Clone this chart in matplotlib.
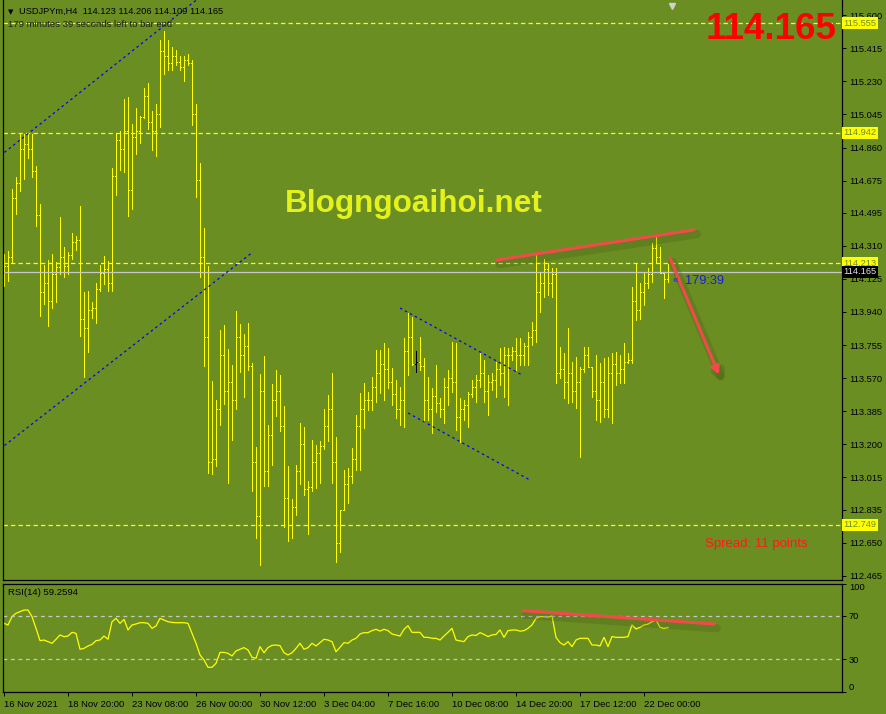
import matplotlib

matplotlib.use("Agg")
import matplotlib.patheffects as pe
import matplotlib.pyplot as plt
from matplotlib.transforms import blended_transform_factory

W, H = 887, 714
BG = "#6b8e23"
plt.rcParams["font.family"] = ["Liberation Sans", "DejaVu Sans"]

# USDJPYm H4 bars (oldest first)
highs = [
    114.264, 114.281, 114.628, 114.695, 114.936, 114.936, 114.936, 114.936, 114.757, 114.544,
    114.203, 114.231, 114.264, 114.220, 114.471, 114.304, 114.276, 114.382, 114.365, 114.533,
    114.052, 114.057, 113.996, 114.102, 114.203, 114.253, 114.225, 114.745, 114.941, 114.952,
    115.131, 115.143, 114.992, 115.081, 115.036, 115.193, 115.221, 115.064, 115.103, 115.461,
    115.512, 115.461, 115.422, 115.405, 115.372, 115.372, 115.383, 115.349, 115.103, 114.773,
    114.410, 114.197, 113.554, 113.448, 113.839, 113.867, 113.733, 113.644, 113.946, 113.873,
    113.817, 113.879, 113.655, 113.185, 113.593, 113.694, 113.308, 113.537, 113.616, 113.588,
    113.414, 113.079, 112.894, 113.084, 113.319, 113.297, 112.995, 113.224, 113.196, 113.219,
    113.398, 113.476, 113.599, 113.241, 112.833, 113.056, 113.068, 113.179, 113.364, 113.487,
    113.543, 113.493, 113.576, 113.727, 113.727, 113.767, 113.739, 113.627, 113.560, 113.521,
    113.795, 113.934, 113.912, 113.722, 113.800, 113.683, 113.576, 113.515, 113.644, 113.459,
    113.571, 113.616, 113.772, 113.767, 113.459, 113.448, 113.493, 113.560, 113.588, 113.716,
    113.672, 113.588, 113.599, 113.660, 113.739, 113.744, 113.739, 113.744, 113.795, 113.795,
    113.767, 113.828, 113.884, 114.259, 114.158, 114.236, 114.214, 114.186, 114.186, 113.744,
    113.711, 113.851, 113.660, 113.688, 113.632, 113.744, 113.744, 113.632, 113.700, 113.655,
    113.683, 113.688, 113.711, 113.716, 113.700, 113.767, 113.711, 114.080, 114.214, 114.102,
    114.164, 114.186, 114.326, 114.360, 114.304, 114.164, 114.206,
]
lows = [
    114.085, 114.113, 114.214, 114.488, 114.617, 114.684, 114.801, 114.695, 114.421, 113.918,
    113.985, 113.862, 113.962, 113.996, 114.153, 114.136, 114.153, 114.236, 114.287, 113.806,
    113.576, 113.716, 113.906, 113.879, 114.057, 114.097, 114.057, 114.057, 114.594, 114.734,
    114.723, 114.477, 114.516, 114.824, 114.885, 115.025, 114.964, 114.846, 114.813, 114.975,
    115.271, 115.294, 115.294, 115.321, 115.294, 115.232, 115.321, 114.986, 114.583, 114.136,
    113.638, 113.040, 113.034, 113.079, 113.308, 113.425, 112.984, 113.224, 113.398, 113.604,
    113.465, 113.616, 112.939, 112.676, 112.525, 112.967, 112.967, 113.084, 113.358, 113.274,
    112.738, 112.659, 112.676, 112.805, 112.978, 112.917, 112.698, 112.939, 112.956, 112.984,
    113.174, 113.219, 112.984, 112.542, 112.598, 112.830, 112.872, 112.984, 113.056, 113.056,
    113.291, 113.392, 113.392, 113.437, 113.487, 113.448, 113.515, 113.420, 113.347, 113.308,
    113.297, 113.588, 113.644, 113.604, 113.616, 113.325, 113.336, 113.263, 113.381, 113.353,
    113.319, 113.420, 113.493, 113.280, 113.213, 113.336, 113.297, 113.465, 113.437, 113.521,
    113.437, 113.364, 113.504, 113.465, 113.532, 113.465, 113.420, 113.672, 113.616, 113.644,
    113.644, 113.644, 113.755, 113.772, 113.940, 114.024, 114.035, 114.024, 113.543, 113.571,
    113.459, 113.431, 113.437, 113.403, 113.129, 113.604, 113.632, 113.465, 113.336, 113.325,
    113.353, 113.353, 113.319, 113.532, 113.543, 113.543, 113.655, 113.655, 113.895, 113.901,
    113.979, 114.074, 114.108, 114.214, 114.158, 114.018, 114.109,
]
opens = [
    114.15, 114.20, 114.25, 114.58, 114.66, 114.85, 114.88, 114.85, 114.73, 114.48,
    114.05, 114.10, 114.00, 114.15, 114.19, 114.25, 114.20, 114.26, 114.33, 114.34,
    113.90, 113.85, 113.95, 113.96, 114.07, 114.16, 114.18, 114.10, 114.70, 114.90,
    114.85, 114.95, 114.62, 114.92, 114.95, 115.03, 115.15, 115.00, 114.95, 115.05,
    115.40, 115.37, 115.33, 115.37, 115.34, 115.31, 115.35, 115.33, 115.05, 114.68,
    114.25, 113.80, 113.10, 113.12, 113.40, 113.70, 113.50, 113.55, 113.45, 113.80,
    113.70, 113.75, 113.64, 113.10, 112.80, 113.50, 113.05, 113.25, 113.45, 113.50,
    113.30, 112.90, 112.75, 112.85, 113.05, 113.20, 112.95, 112.96, 113.10, 113.15,
    113.19, 113.30, 113.40, 113.10, 112.65, 112.83, 112.98, 113.02, 113.12, 113.30,
    113.40, 113.45, 113.45, 113.52, 113.60, 113.65, 113.62, 113.55, 113.48, 113.40,
    113.45, 113.72, 113.80, 113.65, 113.66, 113.64, 113.45, 113.40, 113.47, 113.43,
    113.40, 113.52, 113.57, 113.55, 113.35, 113.40, 113.42, 113.48, 113.52, 113.56,
    113.60, 113.50, 113.55, 113.56, 113.62, 113.60, 113.70, 113.70, 113.72, 113.70,
    113.70, 113.75, 113.80, 113.84, 114.05, 114.10, 114.18, 114.10, 114.15, 113.60,
    113.62, 113.55, 113.60, 113.50, 113.55, 113.62, 113.70, 113.63, 113.50, 113.45,
    113.55, 113.40, 113.60, 113.65, 113.60, 113.62, 113.66, 113.67, 114.00, 113.95,
    114.05, 114.10, 114.15, 114.30, 114.25, 114.16, 114.123,
]
closes = [
    114.20, 114.25, 114.58, 114.66, 114.85, 114.88, 114.85, 114.73, 114.48, 114.05,
    114.10, 114.00, 114.15, 114.19, 114.25, 114.20, 114.26, 114.33, 114.34, 113.90,
    113.85, 113.95, 113.96, 114.07, 114.16, 114.18, 114.10, 114.70, 114.90, 114.85,
    114.95, 114.62, 114.92, 114.95, 115.03, 115.15, 115.00, 114.95, 115.05, 115.40,
    115.37, 115.33, 115.37, 115.34, 115.31, 115.35, 115.33, 115.05, 114.68, 114.25,
    113.80, 113.10, 113.12, 113.40, 113.70, 113.50, 113.55, 113.45, 113.80, 113.70,
    113.75, 113.64, 113.10, 112.80, 113.50, 113.05, 113.25, 113.45, 113.50, 113.30,
    112.90, 112.75, 112.85, 113.05, 113.20, 112.95, 112.96, 113.10, 113.15, 113.19,
    113.30, 113.40, 113.10, 112.65, 112.83, 112.98, 113.02, 113.12, 113.30, 113.40,
    113.45, 113.45, 113.52, 113.60, 113.65, 113.62, 113.55, 113.48, 113.40, 113.45,
    113.72, 113.80, 113.65, 113.66, 113.64, 113.45, 113.40, 113.47, 113.43, 113.40,
    113.52, 113.57, 113.55, 113.35, 113.40, 113.42, 113.48, 113.52, 113.56, 113.60,
    113.50, 113.55, 113.56, 113.62, 113.60, 113.70, 113.70, 113.72, 113.70, 113.70,
    113.75, 113.80, 113.84, 114.05, 114.10, 114.18, 114.10, 114.15, 113.60, 113.62,
    113.55, 113.60, 113.50, 113.55, 113.62, 113.70, 113.63, 113.50, 113.45, 113.55,
    113.40, 113.60, 113.65, 113.60, 113.62, 113.66, 113.67, 114.00, 113.95, 114.05,
    114.10, 114.15, 114.30, 114.25, 114.16, 114.123, 114.165,
]
rsi = [
    63.2, 61.7, 69.4, 72.5, 74.0, 75.5, 75.5, 69.4, 58.6, 47.2,
    47.8, 46.3, 44.8, 48.5, 52.5, 50.9, 51.5, 54.9, 54.0, 39.3,
    40.1, 42.3, 43.8, 47.2, 47.8, 51.5, 48.5, 64.7, 67.8, 63.2,
    66.9, 57.1, 61.7, 62.6, 63.8, 63.8, 63.2, 58.6, 60.8, 67.8,
    66.3, 64.7, 64.1, 63.8, 63.8, 63.8, 63.2, 54.0, 44.8, 34.0,
    29.4, 22.6, 22.6, 26.3, 36.4, 36.4, 35.5, 33.1, 37.7, 39.3,
    40.8, 38.6, 31.9, 30.9, 41.7, 36.1, 40.8, 42.9, 43.2, 42.6,
    36.1, 34.0, 36.1, 40.1, 44.8, 39.3, 40.8, 44.8, 42.3, 45.4,
    48.5, 47.8, 46.3, 37.0, 41.1, 45.4, 44.8, 47.8, 49.4, 53.4,
    54.6, 54.6, 56.5, 57.7, 56.1, 57.7, 56.5, 53.4, 52.5, 51.5,
    57.7, 61.0, 54.9, 54.9, 54.9, 50.3, 50.3, 49.4, 49.4, 47.8,
    51.5, 54.9, 58.6, 47.8, 47.0, 46.3, 51.0, 52.5, 52.0, 54.6,
    53.0, 51.0, 52.5, 53.0, 57.1, 50.3, 56.5, 57.0, 57.1, 56.0,
    56.5, 58.6, 61.7, 67.8, 69.4, 69.4, 69.0, 70.0, 50.3, 45.4,
    43.2, 46.3, 41.7, 47.8, 49.4, 49.4, 49.4, 43.2, 43.2, 42.3,
    50.3, 41.7, 51.0, 50.3, 50.3, 50.3, 51.0, 61.7, 58.0, 59.5,
    61.7, 62.5, 64.7, 66.3, 59.5, 58.6, 59.26,
]
CURSOR_BAR = 103  # bar drawn in black (crosshair)

date_ticks = [0, 16, 32, 48, 64, 80, 96, 112, 128, 144, 160]
date_labels = ["16 Nov 2021", "18 Nov 20:00", "23 Nov 08:00", "26 Nov 00:00",
               "30 Nov 12:00", "3 Dec 04:00", "7 Dec 16:00", "10 Dec 08:00",
               "14 Dec 20:00", "17 Dec 12:00", "22 Dec 00:00"]
price_ticks = [115.600, 115.415, 115.230, 115.045, 114.860, 114.675, 114.495, 114.310,
               114.125, 113.940, 113.755, 113.570, 113.385, 113.200, 113.015, 112.835,
               112.650, 112.465]
levels = [115.555, 114.942, 114.213, 112.749]
last_price = 114.165

# drawn objects: ((bar, price), (bar, price))
blue_lines = [((-1, 114.813), (48, 115.683)),
              ((-1, 113.174), (62.25, 114.276)),
              ((99, 113.962), (129.5, 113.588)),
              ((101, 113.375), (131.5, 113.000))]
red_line = ((123.25, 114.231), (172.5, 114.399))
red_arrow = ((166.5, 114.242), (178.75, 113.588))
rsi_red_line = ((129.75, 74.9), (177.5, 62.6))


def fx(x):
    return x / W


def fy(y):
    return 1 - y / H


fig = plt.figure(figsize=(W / 100, H / 100), dpi=100, facecolor=BG)
ax = fig.add_axes([fx(3), fy(580), (842 - 3) / W, 580 / H], facecolor=BG)
ax2 = fig.add_axes([fx(3), fy(691.8), (842 - 3) / W, (691.8 - 583.5) / H], facecolor=BG)

n = len(highs)
idx = list(range(n))
colors = ["#ffff00"] * n
colors[CURSOR_BAR] = "black"

ax.vlines(idx, lows, highs, colors=colors, lw=0.6, antialiased=False)
ax.hlines(opens, [i - 0.3 for i in idx], idx, colors=colors, lw=0.6, antialiased=False)
ax.hlines(closes, idx, [i + 0.3 for i in idx], colors=colors, lw=0.6, antialiased=False)

for lv in levels:
    ax.axhline(lv, color="#ffff00", lw=0.9, ls=(0, (3.5, 2.5)))
ax.axhline(last_price, color="#c8c8c8", lw=0.9)

for (x0, y0), (x1, y1) in blue_lines:
    ax.plot([x0, x1], [y0, y1], color="#0000ff", lw=0.9, ls=(0, (2.0, 2.5)))

shadow = [pe.SimpleLineShadow(offset=(2, -3), shadow_color="#3a4a10", alpha=0.22, linewidth=6),
          pe.Normal()]
(x0, y0), (x1, y1) = red_line
ax.plot([x0, x1], [y0, y1], color="#f24a4a", lw=2.2, solid_capstyle="round",
        path_effects=shadow)
(x0, y0), (x1, y1) = red_arrow
arr = ax.annotate("", xy=(x1, y1), xytext=(x0, y0),
                  arrowprops=dict(arrowstyle="-|>", color="#f24a4a", lw=2.2,
                                  mutation_scale=12, shrinkA=0, shrinkB=0))
arr.arrow_patch.set_path_effects(shadow)

ax.set_xlim(-0.25, 209.5)
ax.set_ylim(112.441, 115.685)
ax.set_xticks([])
ax.yaxis.tick_right()
ax.set_yticks(price_ticks)
ax.set_yticklabels([f"{v:.3f}" for v in price_ticks])
ax.tick_params(axis="y", direction="out", length=3, width=0.7, colors="black",
               labelsize=6.7, pad=2)
for s in ["left", "right", "bottom"]:
    ax.spines[s].set_color("black")
    ax.spines[s].set_linewidth(0.9)
ax.spines["top"].set_visible(False)

tr = blended_transform_factory(ax.transAxes, ax.transData)
for lv in levels:
    ax.text(1.002, lv, f"{lv:.3f}", transform=tr, fontsize=6.7, color=BG,
            ha="left", va="center", zorder=5,
            bbox=dict(boxstyle="square,pad=0.15", fc="#ffff00", ec="none"))
ax.text(1.002, last_price, f"{last_price:.3f}", transform=tr, fontsize=6.7,
        color="#e0e0e0", ha="left", va="center", zorder=5,
        bbox=dict(boxstyle="square,pad=0.15", fc="black", ec="none"))

# chart shift marker
ax.plot([167], [0.99], marker="v", ms=5, color="#d0d0d0",
        transform=blended_transform_factory(ax.transData, ax.transAxes), clip_on=False)

# RSI panel
ax2.plot(idx, rsi, color="#ffff00", lw=0.9)
for lv in [70, 30]:
    ax2.axhline(lv, color="#c8c8c8", lw=0.9, ls=(0, (3, 3)))
(x0, y0), (x1, y1) = rsi_red_line
ax2.plot([x0, x1], [y0, y1], color="#f24a4a", lw=2.2, solid_capstyle="round",
         path_effects=shadow)
ax2.set_xlim(-0.25, 209.5)
ax2.set_ylim(0, 100)
ax2.yaxis.tick_right()
ax2.set_yticks([0, 30, 70, 100])
ax2.set_yticklabels(["0", "30", "70", "100"])
ax2.tick_params(axis="y", direction="out", length=3, width=0.7, colors="black",
                labelsize=6.7, pad=2)
ylabs = ax2.get_yticklabels()
ylabs[0].set_va("bottom")
ylabs[-1].set_va("top")
ax2.set_xticks(date_ticks)
ax2.set_xticklabels(date_labels)
ax2.tick_params(axis="x", direction="out", length=3, width=0.7, colors="black",
                labelsize=6.8, pad=3)
for lab in ax2.get_xticklabels():
    lab.set_ha("left")
for s in ax2.spines.values():
    s.set_color("black")
    s.set_linewidth(0.9)

# overlay texts (pixel positions)
fig.text(fx(8), fy(14), "\u25bc", fontsize=5, color="black", family="DejaVu Sans",
         va="baseline")
fig.text(fx(19), fy(14), "USDJPYm,H4  114.123 114.206 114.109 114.165", fontsize=6.7,
         color="black", va="baseline")
fig.text(fx(8), fy(26.7), "179 minutes 39 seconds left to bar end", fontsize=6.8,
         color="#202020", va="baseline")
fig.text(fx(837), fy(39.3), "114.165", fontsize=26.5, fontweight="bold", color="#ff0000",
         ha="right", va="baseline")
fig.text(fx(285), fy(211.8), "Blogngoaihoi.net", fontsize=22.7, fontweight="bold",
         color="#e5f21a", va="baseline")
fig.text(fx(673), fy(283), "\u00ab", fontsize=7, color="#1a1ae6", va="baseline")
fig.text(fx(685), fy(284), "179:39", fontsize=9.2, color="#1a1ae6", va="baseline")
fig.text(fx(705), fy(547), "Spread: 11 points", fontsize=9.5, color="#ff1a1a",
         va="baseline")
fig.text(fx(8), fy(595), "RSI(14) 59.2594", fontsize=6.8, color="black", va="baseline")

fig.savefig("out.png", dpi=100, facecolor=BG)
